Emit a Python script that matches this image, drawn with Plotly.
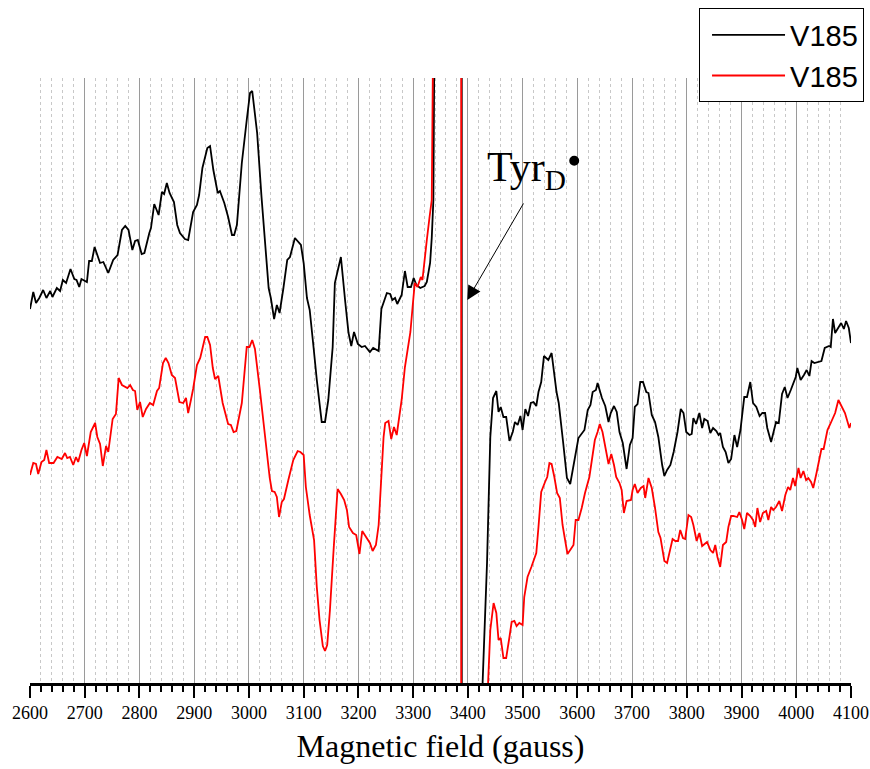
import plotly.graph_objects as go

# Magnetic field (gauss) and signal (arbitrary units)
field_a = [2600, 2606, 2611, 2617, 2624, 2630, 2637, 2641, 2649, 2655, 2660, 2666, 2674, 2681, 2685, 2690, 2694,
           2704, 2708, 2713, 2718, 2728, 2734, 2743, 2752, 2760, 2768, 2774, 2780, 2787, 2792, 2797, 2804, 2809,
           2818, 2821, 2827, 2835, 2841, 2845, 2850, 2855, 2863, 2869, 2874, 2883, 2889, 2898, 2905, 2909, 2915,
           2924, 2929, 2935, 2943, 2947, 2955, 2962, 2969, 2973, 2978, 2987, 2996, 3002, 3006, 3015, 3023, 3036,
           3040, 3046, 3051, 3056, 3063, 3070, 3075, 3084, 3095, 3100, 3106, 3111, 3118, 3124, 3133, 3139, 3145,
           3153, 3157, 3168, 3176, 3182, 3187, 3192, 3199, 3206, 3212, 3221, 3227, 3237, 3242, 3252, 3258, 3262,
           3267, 3271, 3279, 3285, 3290, 3296, 3301, 3306, 3313, 3321, 3325, 3331, 3334, 3337, 3345, 3388.6, 3389.1,
           3420, 3427, 3435, 3441, 3446, 3452, 3456, 3460, 3465, 3470, 3476, 3482, 3486, 3491, 3496, 3500, 3505,
           3510, 3515, 3520, 3525, 3529, 3534, 3539, 3547, 3553, 3562, 3566, 3574, 3581, 3587, 3593, 3602, 3613,
           3619, 3624, 3628, 3634, 3637, 3645, 3651, 3657, 3661, 3667, 3672, 3677, 3683, 3690, 3696, 3701, 3705,
           3710, 3715, 3720, 3726, 3730, 3736, 3742, 3748, 3755, 3759, 3764, 3770, 3776, 3783, 3789, 3794, 3799,
           3805, 3809, 3812, 3817, 3823, 3828, 3832, 3838, 3843, 3848, 3854, 3858, 3861, 3866, 3871, 3876, 3881,
           3887, 3892, 3898, 3905, 3910, 3916, 3921, 3927, 3933, 3938, 3943, 3947, 3954, 3960, 3963, 3968, 3974,
           3979, 3984, 3990, 3996, 3999, 4002, 4008, 4014, 4019, 4024, 4028, 4033, 4046, 4052, 4060, 4063, 4067,
           4071, 4082, 4087, 4091, 4096, 4100]
signal_a = [374, 391, 380, 385, 393, 385, 392, 386, 395, 392, 403, 400, 414, 404, 403, 396, 404,
            401, 422, 422, 436, 420, 421, 410, 423, 428, 453, 457, 453, 433, 442, 443, 429, 430,
            450, 455, 479, 468, 491, 489, 500, 490, 481, 458, 450, 444, 443, 471, 478, 488, 515,
            535, 537, 513, 490, 492, 480, 466, 448, 448, 458, 520, 563, 590, 592, 550, 486, 395,
            385, 364, 378, 370, 395, 423, 426, 445, 438, 420, 385, 373, 336, 303, 261, 261, 283,
            336, 400, 426, 381, 350, 337, 351, 339, 336, 337, 331, 335, 332, 374, 390, 389, 383,
            385, 379, 388, 412, 396, 396, 405, 398, 395, 397, 401, 420, 445, 483, 1183, 3683, -2817,
            -517, 1, 120, 246, 285, 292, 271, 276, 266, 266, 242, 251, 261, 258, 267, 253, 274,
            267, 280, 281, 277, 291, 301, 327, 323, 330, 291, 280, 241, 205, 199, 218, 245, 253,
            273, 278, 291, 293, 300, 285, 277, 261, 270, 277, 271, 251, 240, 214, 238, 245, 276,
            279, 301, 301, 291, 290, 268, 261, 246, 218, 207, 213, 218, 231, 251, 274, 270, 251,
            248, 249, 265, 259, 270, 255, 264, 262, 250, 255, 252, 248, 250, 236, 231, 220, 224,
            248, 236, 253, 286, 286, 301, 280, 276, 267, 270, 270, 255, 241, 253, 261, 260, 289,
            296, 285, 293, 302, 306, 315, 303, 308, 313, 307, 322, 320, 322, 335, 337, 336, 364,
            350, 360, 354, 362, 355, 340]

field_b = [2600, 2606, 2611, 2615, 2621, 2626, 2630, 2635, 2643, 2650, 2658, 2664, 2668, 2673, 2679, 2684, 2688,
           2694, 2699, 2704, 2711, 2719, 2723, 2728, 2733, 2739, 2743, 2751, 2757, 2762, 2768, 2772, 2778, 2783,
           2788, 2792, 2796, 2801, 2806, 2812, 2819, 2825, 2832, 2836, 2843, 2848, 2853, 2859, 2865, 2873, 2880,
           2885, 2889, 2894, 2898, 2905, 2911, 2920, 2924, 2929, 2934, 2938, 2944, 2952, 2962, 2967, 2972, 2977,
           2987, 2996, 3001, 3006, 3011, 3020, 3033, 3038, 3042, 3047, 3051, 3055, 3060, 3064, 3072, 3081, 3089,
           3094, 3100, 3104, 3111, 3119, 3124, 3129, 3135, 3139, 3143, 3148, 3155, 3162, 3168, 3174, 3179, 3183,
           3190, 3196, 3202, 3207, 3214, 3221, 3226, 3232, 3237, 3241, 3246, 3249, 3255, 3260, 3265, 3270, 3279,
           3285, 3295, 3299, 3303, 3308, 3314, 3317, 3321, 3325, 3330, 3334, 3345, 3387.6, 3388.1, 3430, 3437,
           3441, 3447, 3452, 3456, 3460, 3465, 3470, 3476, 3480, 3485, 3489, 3494, 3500, 3503, 3509, 3516, 3525,
           3529, 3534, 3541, 3545, 3549, 3553, 3558, 3563, 3568, 3573, 3577, 3582, 3587, 3593, 3597, 3602, 3608,
           3614, 3622, 3628, 3632, 3637, 3641, 3646, 3651, 3657, 3662, 3667, 3671, 3677, 3681, 3685, 3690, 3698,
           3701, 3705, 3710, 3716, 3721, 3724, 3730, 3736, 3742, 3748, 3752, 3759, 3764, 3768, 3774, 3779, 3784,
           3788, 3793, 3797, 3803, 3808, 3812, 3818, 3823, 3828, 3832, 3837, 3843, 3848, 3852, 3856, 3861, 3866,
           3872, 3876, 3881, 3885, 3892, 3896, 3901, 3905, 3910, 3916, 3921, 3925, 3929, 3934, 3939, 3945, 3949,
           3954, 3958, 3963, 3969, 3974, 3980, 3985, 3989, 3994, 3998, 4004, 4008, 4013, 4018, 4022, 4027, 4031,
           4037, 4046, 4050, 4057, 4063, 4071, 4077, 4083, 4089, 4097, 4100]
signal_b = [208, 220, 219, 209, 221, 223, 233, 220, 220, 226, 224, 230, 225, 226, 218, 226, 221,
            233, 240, 227, 251, 260, 246, 239, 217, 237, 231, 264, 269, 305, 298, 297, 295, 298,
            293, 292, 273, 281, 266, 274, 280, 278, 292, 295, 320, 325, 320, 308, 305, 281, 280,
            285, 270, 283, 294, 318, 325, 346, 346, 338, 315, 304, 307, 280, 259, 258, 251, 252,
            280, 336, 336, 343, 334, 293, 226, 205, 192, 191, 186, 166, 181, 184, 203, 223, 232,
            231, 228, 196, 168, 143, 96, 63, 37, 32, 38, 73, 136, 194, 189, 183, 173, 156,
            150, 148, 129, 152, 146, 140, 132, 138, 158, 196, 246, 260, 262, 244, 256, 248, 283,
            316, 351, 376, 400, 396, 406, 403, 425, 443, 466, 483, 1183, 3683, -2817, -317, 1,
            53, 80, 70, 43, 45, 25, 25, 46, 61, 62, 57, 60, 58, 86, 106, 116, 130,
            156, 191, 201, 206, 220, 219, 206, 190, 185, 158, 145, 129, 133, 138, 163, 163, 175,
            190, 206, 226, 243, 251, 259, 251, 236, 219, 229, 218, 206, 200, 193, 170, 182, 183,
            193, 199, 190, 195, 197, 185, 205, 195, 175, 151, 145, 122, 120, 131, 144, 142, 142,
            153, 145, 144, 168, 166, 158, 142, 150, 137, 139, 141, 133, 130, 138, 126, 116, 138,
            141, 156, 167, 167, 166, 171, 163, 154, 170, 167, 163, 156, 175, 161, 170, 172, 163,
            176, 173, 176, 182, 172, 188, 196, 193, 205, 197, 215, 205, 212, 203, 205, 201, 195,
            210, 234, 234, 253, 260, 270, 283, 276, 270, 255, 260]

series_names = ["V185", "V185"]
series_colors = ["#000000", "#ff0000"]
x_ticks = [2600, 2700, 2800, 2900, 3000, 3100, 3200, 3300, 3400, 3500, 3600, 3700, 3800, 3900, 4000, 4100]

fig = go.Figure()
fig.add_trace(go.Scatter(x=field_a, y=signal_a, mode="lines", name=series_names[0],
                         line=dict(color=series_colors[0], width=1.8)))
fig.add_trace(go.Scatter(x=field_b, y=signal_b, mode="lines", name=series_names[1],
                         line=dict(color=series_colors[1], width=1.8)))

fig.add_annotation(x=3399, y=383, xref="x", yref="y", ax=57, ay=-98, text="",
                   showarrow=True, arrowhead=2, arrowsize=2.8, arrowwidth=1, arrowcolor="black",
                   standoff=0)
fig.add_annotation(x=3431, y=513, xref="x", yref="y", xanchor="left", yanchor="middle",
                   text="Tyr<sub>D</sub>", showarrow=False,
                   font=dict(family="Liberation Serif", size=42, color="black"))
fig.add_shape(type="circle", xref="x", yref="y", x0=3585.2, x1=3603.4, y0=517.3, y1=527.3,
              fillcolor="black", line=dict(color="black", width=0))

fig.update_layout(
    width=870, height=769,
    margin=dict(l=30, r=19, t=78, b=86, autoexpand=False),
    paper_bgcolor="white", plot_bgcolor="white",
    showlegend=True,
    legend=dict(x=0.8149, y=1.115, xanchor="left", yanchor="top",
                bgcolor="white", bordercolor="black", borderwidth=1,
                font=dict(family="Liberation Sans", size=29, color="black"),
                itemwidth=73, tracegroupgap=0, indentation=7, entrywidth=190),
    xaxis=dict(range=[2600, 4100], tickvals=x_ticks, ticktext=[str(v) for v in x_ticks],
               automargin=False,
               showgrid=True, gridcolor="#9a9a9a", gridwidth=1,
               minor=dict(dtick=20, tick0=2600, showgrid=True, gridcolor="#c8c8c8", griddash="3px,3px",
                          gridwidth=1, ticks="outside", ticklen=6, tickwidth=2, tickcolor="black"),
               ticks="outside", ticklen=12, tickwidth=2, tickcolor="black",
               showline=True, linecolor="black", linewidth=2.5, zeroline=False,
               tickfont=dict(family="Liberation Serif", size=18, color="black"),
               title=dict(text="Magnetic field (gauss)", standoff=13,
                          font=dict(family="Liberation Serif", size=32, color="black"))),
    yaxis=dict(range=[0, 605], visible=False, showgrid=False, zeroline=False, automargin=False),
)

fig.write_html("out.html")
